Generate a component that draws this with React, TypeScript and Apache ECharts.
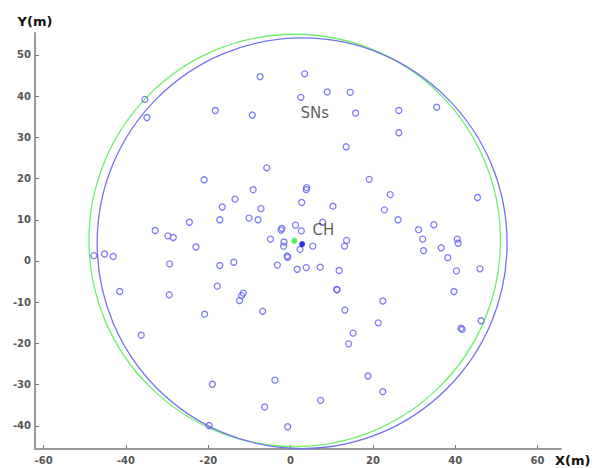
import React, { useEffect, useRef } from 'react';
import * as echarts from 'echarts';

const xTicks = [-60, -40, -20, 0, 20, 40, 60];
const yTicks = [-40, -30, -20, -10, 0, 10, 20, 30, 40, 50];

const snPoints = [
  [-35.4, 39.2], [-34.9, 34.8], [-7.4, 44.7], [3.4, 45.4], [8.9, 41.0], [14.5, 40.9],
  [2.5, 39.7], [-18.3, 36.5], [-9.3, 35.4], [15.8, 35.9], [13.5, 27.7], [26.3, 36.5],
  [35.5, 37.3], [26.3, 31.1], [-5.8, 22.6], [-21.0, 19.7], [19.1, 19.8], [-9.1, 17.3],
  [-13.5, 15.0], [3.9, 17.8], [3.8, 17.3], [2.7, 14.2], [10.3, 13.3], [-16.6, 13.1],
  [-7.2, 12.7], [22.8, 12.4], [24.2, 16.1], [-17.2, 10.0], [-10.1, 10.4], [-7.9, 10.0],
  [-24.6, 9.4], [1.2, 8.7], [7.8, 9.4], [-2.1, 7.9], [-2.3, 7.5], [2.6, 7.3],
  [-4.9, 5.3], [-1.6, 4.6], [-1.7, 3.6], [2.3, 2.8], [5.4, 3.6], [13.6, 5.0],
  [13.1, 3.6], [-23.0, 3.4], [-0.85, 1.2], [-0.7, 0.9], [-13.8, -0.3], [-17.2, -1.1],
  [-3.2, -1.0], [1.6, -2.0], [3.8, -1.6], [7.2, -1.5], [11.8, -2.3], [-17.8, -6.1],
  [-11.5, -7.8], [-11.9, -8.4], [-12.4, -9.6], [11.2, -6.9], [11.3, -7.0], [22.4, -9.7],
  [-6.8, -12.2], [13.2, -11.9], [-20.9, -12.9], [21.3, -15.0], [15.2, -17.5], [14.1, -20.1],
  [-19.0, -29.9], [-3.8, -28.9], [-6.3, -35.4], [7.3, -33.8], [18.8, -27.9], [22.4, -31.7],
  [-19.8, -39.9], [-0.7, -40.2], [-47.8, 1.3], [-45.2, 1.7], [-43.1, 1.1], [-32.9, 7.4],
  [-29.8, 6.1], [-28.5, 5.7], [-29.4, -0.7], [-41.5, -7.4], [-29.5, -8.2], [-36.3, -18.0],
  [45.4, 15.4], [26.1, 10.0], [34.8, 8.8], [31.1, 7.6], [32.1, 5.3], [40.5, 5.3],
  [40.7, 4.3], [32.3, 2.5], [36.6, 3.2], [38.2, 0.8], [40.3, -2.4], [46.0, -1.9],
  [39.7, -7.4], [41.4, -16.3], [41.7, -16.6], [46.3, -14.5],
];

const greenNode = [[0.9, 4.9]];
const chNode = [[2.8, 4.1]];
// [centerX, centerY, radius]
const greenCircle = [[1.0, 5.0, 50.0]];
const blueCircle = [[2.8, 4.3, 49.8]];
const labelSNs = [[2.3, 36.0]];
const labelCH = [[5.2, 7.4]];

const circleRenderer = (color: string) => (params: any, api: any) => {
  const c = api.coord([api.value(0), api.value(1)]);
  const s = api.size([api.value(2), api.value(2)]);
  return {
    type: 'ellipse',
    shape: { cx: c[0], cy: c[1], rx: s[0], ry: s[1] },
    style: { fill: 'none', stroke: color, lineWidth: 1.3 },
    silent: true,
  };
};

export default function App() {
  const ref = useRef<HTMLDivElement>(null);
  useEffect(() => {
    if (!ref.current) return;
    const chart = echarts.init(ref.current, null, { renderer: 'svg' });
    const tickFont = {
      fontSize: 10,
      fontWeight: 'bold' as const,
      color: '#555',
      fontFamily: 'DejaVu Sans',
    };
    chart.setOption({
      animation: false,
      backgroundColor: '#fff',
      grid: { left: 35, right: 31, top: 33, bottom: 19 },
      xAxis: {
        type: 'value',
        min: -62.1,
        max: 65.7,
        axisLine: { show: true, onZero: false, lineStyle: { color: '#999', width: 2 } },
        axisTick: { show: true, inside: true, length: 4, customValues: xTicks, lineStyle: { color: '#777' } },
        axisLabel: { show: true, customValues: xTicks, margin: 6, ...tickFont },
        splitLine: { show: false },
      },
      yAxis: {
        type: 'value',
        min: -45.6,
        max: 55.3,
        axisLine: { show: true, onZero: false, lineStyle: { color: '#999', width: 2 } },
        axisTick: { show: true, inside: true, length: 4, customValues: yTicks, lineStyle: { color: '#777' } },
        axisLabel: { show: true, customValues: yTicks, margin: 4, ...tickFont },
        splitLine: { show: false },
        name: 'Y(m)',
        nameLocation: 'end',
        nameGap: 5,
        nameTextStyle: { fontSize: 13, fontWeight: 'bold', color: '#111', fontFamily: 'DejaVu Sans' },
      },
      graphic: [
        {
          type: 'text',
          left: 555,
          top: 454,
          style: { text: 'X(m)', fontSize: 13, fontWeight: 'bold', fill: '#111', fontFamily: 'DejaVu Sans' },
        },
      ],
      series: [
        {
          type: 'custom',
          data: greenCircle,
          renderItem: circleRenderer('#6fee6f'),
          clip: false,
          z: 1,
        },
        {
          type: 'custom',
          data: blueCircle,
          renderItem: circleRenderer('#7272ef'),
          clip: false,
          z: 1,
        },
        {
          type: 'scatter',
          data: snPoints,
          symbol: 'circle',
          symbolSize: 6,
          itemStyle: { color: 'rgba(0,0,0,0)', borderColor: '#5c5cf0', borderWidth: 1.3 },
          z: 2,
        },
        {
          type: 'scatter',
          data: greenNode,
          symbolSize: 6,
          itemStyle: { color: '#22ee22' },
          z: 3,
        },
        {
          type: 'scatter',
          data: chNode,
          symbolSize: 6,
          itemStyle: { color: '#0000cc' },
          z: 3,
        },
        {
          type: 'scatter',
          data: labelSNs,
          symbolSize: 1,
          itemStyle: { color: 'rgba(0,0,0,0)' },
          label: {
            show: true, position: 'right', distance: 0, formatter: 'SNs',
            fontSize: 15, color: '#333', fontFamily: 'DejaVu Sans',
          },
          z: 4,
        },
        {
          type: 'scatter',
          data: labelCH,
          symbolSize: 1,
          itemStyle: { color: 'rgba(0,0,0,0)' },
          label: {
            show: true, position: 'right', distance: 0, formatter: 'CH',
            fontSize: 15, color: '#333', fontFamily: 'DejaVu Sans',
          },
          z: 4,
        },
      ],
    });
    return () => chart.dispose();
  }, []);
  return (
    <div
      ref={ref}
      style={{ position: 'fixed', left: 0, top: 0, width: 592, height: 468, background: '#fff' }}
    />
  );
}
